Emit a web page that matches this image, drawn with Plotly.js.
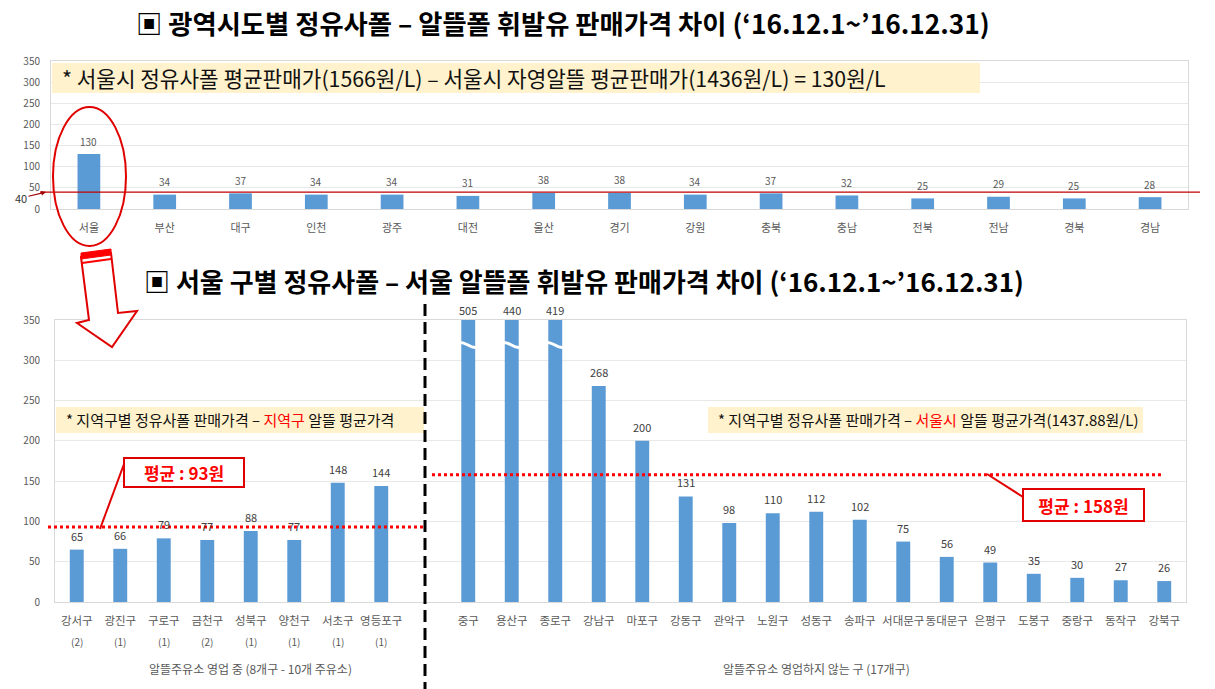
<!DOCTYPE html>
<html>
<head>
<meta charset="utf-8">
<script src="https://cdn.plot.ly/plotly-3.0.1.min.js"></script>
<style>html,body{margin:0;padding:0;background:#fff;}#chart{width:1215px;height:689px;}</style>
</head>
<body>
<div id="chart"></div>
<script>
// ---- data ----
const topCats = ['서울','부산','대구','인천','광주','대전','울산','경기','강원','충북','충남','전북','전남','경북','경남'];
const topVals = [130,34,37,34,34,31,38,38,34,37,32,25,29,25,28];
const topRef = 40;

const leftCats = ['강서구','광진구','구로구','금천구','성북구','양천구','서초구','영등포구'];
const leftCounts = ['(2)','(1)','(1)','(2)','(1)','(1)','(1)','(1)'];
const leftVals = [65,66,79,77,88,77,148,144];
const leftAvg = 93;

const rightCats = ['중구','용산구','종로구','강남구','마포구','강동구','관악구','노원구','성동구','송파구','서대문구','동대문구','은평구','도봉구','중랑구','동작구','강북구'];
const rightVals = [505,440,419,268,200,131,98,110,112,102,75,56,49,35,30,27,26];
const rightAvg = 158;

const yMax = 350;

// ---- helpers ----
const W = 1215, H = 689;
const px = x => x / W;
const py = y => 1 - y / H;
const FONT = '"Noto Sans CJK KR", "Noto Sans", sans-serif';
const BLUE = '#5B9BD5';
const GREY = '#595959';

// bottom chart positions: left group, one empty slot, right group
const leftX = leftCats.map((c, i) => i);
const rightX = rightCats.map((c, i) => leftCats.length + 1 + i);
const botX = leftX.concat(rightX);
const botCats = leftCats.concat(rightCats);
const botVals = leftVals.concat(rightVals);
const botShown = botVals.map(v => Math.min(v, yMax));
const nSlots = leftCats.length + 1 + rightCats.length;

const traces = [
  {type:'bar', x: topCats, y: topVals, xaxis:'x', yaxis:'y', marker:{color:BLUE}, width:0.3, hoverinfo:'x+y'},
  {type:'bar', x: botX, y: botShown, xaxis:'x2', yaxis:'y2', marker:{color:BLUE}, width:0.32,
   customdata: botVals, hovertemplate:'%{customdata}<extra></extra>'}
];

const annotations = [];
// titles
annotations.push({xref:'paper', yref:'paper', x:px(563), y:py(22), text:'▣ 광역시도별 정유사폴 – 알뜰폴 휘발유 판매가격 차이 (‘16.12.1~’16.12.31)',
  showarrow:false, font:{family:FONT, size:26.3, color:'#000', weight:700}, xanchor:'center', yanchor:'middle'});
annotations.push({xref:'paper', yref:'paper', x:px(584), y:py(280), text:'▣ 서울 구별 정유사폴 – 서울 알뜰폴 휘발유 판매가격 차이 (‘16.12.1~’16.12.31)',
  showarrow:false, font:{family:FONT, size:26, color:'#000', weight:700}, xanchor:'center', yanchor:'middle'});

// top data labels
topCats.forEach((c, i) => annotations.push({xref:'x', yref:'y', x:c, y:topVals[i], yshift:13, text:String(topVals[i]),
  showarrow:false, font:{family:FONT, size:10, color:GREY}, xanchor:'center', yanchor:'middle'}));
// bottom data labels
botX.forEach((xv, i) => annotations.push({xref:'x2', yref:'y2', x:xv, y:botShown[i], yshift:botVals[i] > yMax ? 10 : 14, text:String(botVals[i]),
  showarrow:false, font:{family:FONT, size:11, color:'#404040'}, xanchor:'center', yanchor:'middle'}));
// counts under left labels
leftX.forEach((xv, i) => annotations.push({xref:'x2', yref:'paper', x:xv, y:py(641), text:leftCounts[i],
  showarrow:false, font:{family:FONT, size:10, color:GREY}, xanchor:'center', yanchor:'middle'}));
// group labels
annotations.push({xref:'paper', yref:'paper', x:px(251), y:py(668), text:'알뜰주유소 영업 중 (8개구 - 10개 주유소)',
  showarrow:false, font:{family:FONT, size:12, color:GREY}, xanchor:'center', yanchor:'middle'});
annotations.push({xref:'paper', yref:'paper', x:px(816), y:py(668), text:'알뜰주유소 영업하지 않는 구 (17개구)',
  showarrow:false, font:{family:FONT, size:12, color:GREY}, xanchor:'center', yanchor:'middle'});
// top note
annotations.push({xref:'paper', yref:'paper', x:px(60), y:py(78), xanchor:'left', yanchor:'middle',
  text:'* 서울시 정유사폴 평균판매가(1566원/L) – 서울시 자영알뜰 평균판매가(1436원/L) = 130원/L',
  showarrow:false, font:{family:FONT, size:21.3, color:'#111'}});
// bottom notes
annotations.push({xref:'paper', yref:'paper', x:px(64), y:py(420), xanchor:'left', yanchor:'middle',
  text:'* 지역구별 정유사폴 판매가격 – <span style="color:#FF0000">지역구</span> 알뜰 평균가격',
  showarrow:false, font:{family:FONT, size:15, color:'#111'}});
annotations.push({xref:'paper', yref:'paper', x:px(716), y:py(420), xanchor:'left', yanchor:'middle',
  text:'* 지역구별 정유사폴 판매가격 – <span style="color:#FF0000">서울시</span> 알뜰 평균가격(1437.88원/L)',
  showarrow:false, font:{family:FONT, size:15, color:'#111'}});
// average callouts
annotations.push({xref:'paper', yref:'paper', x:px(184), y:py(472.5), text:'평균 : ' + leftAvg + '원',
  showarrow:false, font:{family:FONT, size:17, color:'#FF0000', weight:700}, bgcolor:'#fff', bordercolor:'#E00000', borderwidth:2,
  width:116, height:25, xanchor:'center', yanchor:'middle'});
annotations.push({xref:'paper', yref:'paper', x:px(1083.5), y:py(505), text:'평균 : ' + rightAvg + '원',
  showarrow:false, font:{family:FONT, size:17, color:'#FF0000', weight:700}, bgcolor:'#fff', bordercolor:'#E00000', borderwidth:2,
  width:117, height:28, xanchor:'center', yanchor:'middle'});
// "40" marker
annotations.push({xref:'paper', yref:'y', x:px(46), y:topRef, text:'40', showarrow:true, ax:-25, ay:6,
  arrowhead:2, arrowsize:0.8, arrowwidth:1.2, arrowcolor:'#A00000', font:{family:FONT, size:11, color:'#333'}});

const shapes = [];
// yellow note bands
shapes.push({type:'rect', xref:'paper', yref:'paper', x0:px(52), x1:px(980), y0:py(93), y1:py(63), fillcolor:'#FFF2CC', line:{width:0}});
shapes.push({type:'rect', xref:'paper', yref:'paper', x0:px(56), x1:px(424), y0:py(433), y1:py(407), fillcolor:'#FFF2CC', line:{width:0}});
shapes.push({type:'rect', xref:'paper', yref:'paper', x0:px(708), x1:px(1143), y0:py(433), y1:py(407), fillcolor:'#FFF2CC', line:{width:0}});
// top reference line at 40
shapes.push({type:'line', xref:'paper', yref:'y', x0:px(40), x1:px(1200), y0:topRef, y1:topRef, line:{color:'#C00000', width:1.3}});
// ellipse around 서울
shapes.push({type:'circle', xref:'paper', yref:'paper', x0:px(53), x1:px(126), y0:py(246), y1:py(107), line:{color:'#E00000', width:2}});
// hollow arrow
const arrowPts = [[81,257],[111,253],[118,313],[137,311],[112,347],[77,323],[89,320]];
shapes.push({type:'path', xref:'paper', yref:'paper',
  path:'M ' + arrowPts.map(p => px(p[0]) + ',' + py(p[1])).join(' L ') + ' Z',
  fillcolor:'#fff', line:{color:'#E00000', width:2}});
const bandPts = [[81,253],[111,249],[111,255],[81,259]];
shapes.push({type:'path', xref:'paper', yref:'paper',
  path:'M ' + bandPts.map(p => px(p[0]) + ',' + py(p[1])).join(' L ') + ' Z',
  fillcolor:'#FF0000', line:{color:'#FF0000', width:1}});
shapes.push({type:'line', xref:'paper', yref:'paper', x0:px(82), y0:py(263), x1:px(111), y1:py(259), line:{color:'#FF0000', width:2}});
// dashed divider
shapes.push({type:'line', xref:'paper', yref:'paper', x0:px(425), x1:px(425), y0:py(304), y1:0, line:{color:'#000', width:3, dash:'12px,6px'}});
// average dotted lines
shapes.push({type:'line', xref:'paper', yref:'y2', x0:px(48), x1:px(424), y0:leftAvg, y1:leftAvg, line:{color:'#FF0000', width:3, dash:'dot'}});
shapes.push({type:'line', xref:'paper', yref:'y2', x0:px(432), x1:px(1164), y0:rightAvg, y1:rightAvg, line:{color:'#FF0000', width:3, dash:'dot'}});
// callout leaders
shapes.push({type:'line', xref:'paper', yref:'paper', x0:px(100), y0:py(529), x1:px(124), y1:py(464), line:{color:'#E00000', width:2}});
shapes.push({type:'line', xref:'paper', yref:'paper', x0:px(987), y0:py(474), x1:px(1023), y1:py(497), line:{color:'#E00000', width:2}});
// axis-break marks on clipped bars
botX.forEach((xv, i) => {
  if (botVals[i] > yMax) {
    shapes.push({type:'path', xref:'x2', yref:'y2',
      path:`M ${xv-0.2},${322} C ${xv-0.08},${324} ${xv+0.05},${314} ${xv+0.2},${316}`,
      line:{color:'#fff', width:3}});
  }
});

const axisCommon = {showline:true, linecolor:'#D9D9D9', linewidth:1, mirror:true, ticks:'', zeroline:false, fixedrange:true};

const layout = {
  width: W, height: H,
  margin:{l:0, r:0, t:0, b:0},
  paper_bgcolor:'#fff', plot_bgcolor:'#fff',
  font:{family:FONT, color:GREY},
  showlegend:false,
  xaxis: Object.assign({}, axisCommon, {domain:[px(51), px(1188)], anchor:'y', type:'category', range:[-0.5, topCats.length - 0.5],
    tickfont:{family:FONT, size:11, color:GREY}, ticklabelstandoff:9, showgrid:false, tickangle:0}),
  yaxis: Object.assign({}, axisCommon, {domain:[py(209), py(61)], anchor:'x', range:[0, yMax], dtick:50,
    gridcolor:'#E8E8E8', tickfont:{family:FONT, size:10, color:GREY}, ticklabelstandoff:8}),
  xaxis2: Object.assign({}, axisCommon, {domain:[px(55), px(1186)], anchor:'y2', range:[-0.5, nSlots - 0.5],
    tickvals: botX, ticktext: botCats, tickfont:{family:FONT, size:11.5, color:GREY}, ticklabelstandoff:8, showgrid:false, tickangle:0}),
  yaxis2: Object.assign({}, axisCommon, {domain:[py(602), py(320)], anchor:'x2', range:[0, yMax], dtick:50,
    gridcolor:'#E8E8E8', tickfont:{family:FONT, size:10, color:GREY}, ticklabelstandoff:12}),
  annotations: annotations,
  shapes: shapes
};

Plotly.newPlot('chart', traces, layout, {displayModeBar:false, staticPlot:true});
</script>
</body>
</html>
